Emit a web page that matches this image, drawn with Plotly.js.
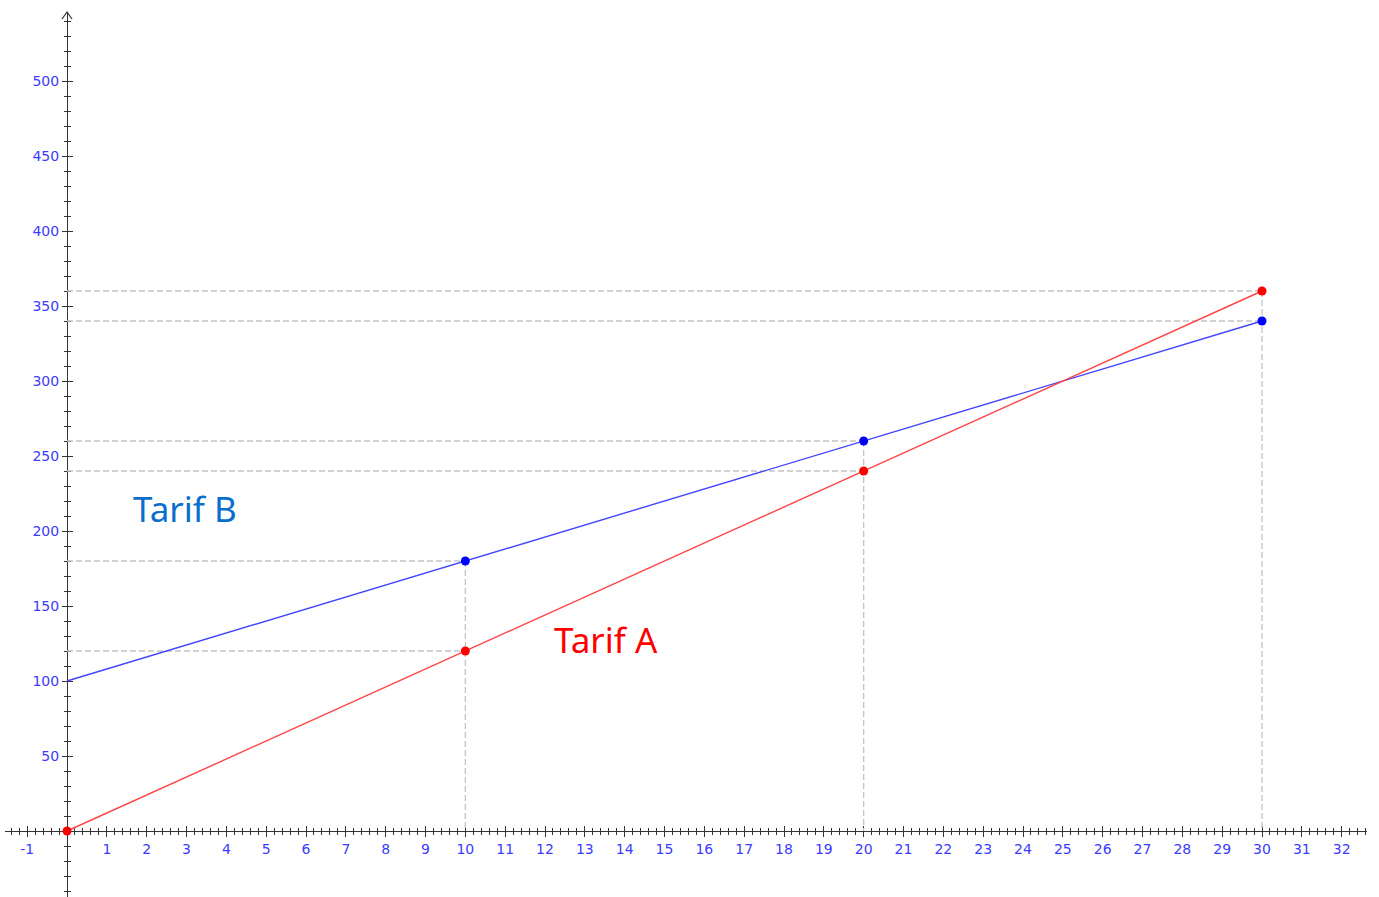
<!DOCTYPE html>
<html>
<head>
<meta charset="utf-8">
<script src="https://cdn.plot.ly/plotly-3.0.1.min.js"></script>
<style>html,body{margin:0;padding:0;background:#fff;}#chart{width:1379px;height:897px;}</style>
</head>
<body>
<div id="chart"></div>
<script>
// Data
const xValues = [0, 10, 20, 30];
const tarifA = [0, 120, 240, 360];
const tarifB = [100, 180, 260, 340];
const xTickVals = [-1,1,2,3,4,5,6,7,8,9,10,11,12,13,14,15,16,17,18,19,20,21,22,23,24,25,26,27,28,29,30,31,32];
const xTickText = ["-1","1","2","3","4","5","6","7","8","9","10","11","12","13","14","15","16","17","18","19","20","21","22","23","24","25","26","27","28","29","30","31","32"];
const yTickVals = [50,100,150,200,250,300,350,400,450,500];
const yTickText = ["50","100","150","200","250","300","350","400","450","500"];
const labelA = "Tarif A";
const labelB = "Tarif B";

// Layout constants
const W = 1379, H = 897;
const xRange = [-1.5565, 32.636];
const yRange = [-44, 546];
const xDomain = [5 / W, 1367 / W];
const yDomain = [0, (H - 12) / H];
const xPos = (0 - yRange[0]) / (yRange[1] - yRange[0]) * (yDomain[1] - yDomain[0]) + yDomain[0];
const yPos = (0 - xRange[0]) / (xRange[1] - xRange[0]) * (xDomain[1] - xDomain[0]) + xDomain[0];

// guide lines: horizontal from each point to y-axis, vertical from the highest point at each x down to x-axis
const hx = [], hy = [], vx = [], vy = [];
for (let i = 0; i < xValues.length; i++) {
  if (xValues[i] === 0) continue;
  hx.push(0, xValues[i], null, 0, xValues[i], null);
  hy.push(tarifA[i], tarifA[i], null, tarifB[i], tarifB[i], null);
  vx.push(xValues[i], xValues[i], null);
  vy.push(Math.max(tarifA[i], tarifB[i]), 0, null);
}
const guideStyle = {color: '#c4c4c4', width: 1.3, dash: '6px,3px'};

const traces = [
  {x: hx, y: hy, mode: 'lines', line: guideStyle, hoverinfo: 'skip', showlegend: false},
  {x: vx, y: vy, mode: 'lines', line: guideStyle, hoverinfo: 'skip', showlegend: false},
  {x: xValues, y: tarifB, mode: 'lines', line: {color: '#4444ff', width: 1.4}, name: labelB, showlegend: false},
  {x: xValues, y: tarifA, mode: 'lines', line: {color: '#ff4444', width: 1.4}, name: labelA, showlegend: false},
  {x: xValues.slice(1), y: tarifB.slice(1), mode: 'markers', marker: {color: '#0000ff', size: 9}, showlegend: false, hoverinfo: 'x+y'},
  {x: xValues, y: tarifA, mode: 'markers', marker: {color: '#ff0000', size: 9}, showlegend: false, hoverinfo: 'x+y'},
  {x: xValues, y: tarifA, xaxis: 'x2', yaxis: 'y2', mode: 'none', showlegend: false, hoverinfo: 'skip'}
];

const tickFont = {family: 'DejaVu Sans, sans-serif', size: 14, color: '#3b3bff'};
const axisCommon = {
  showgrid: false, zeroline: false, layer: 'below traces', fixedrange: true
};

const layout = {
  width: W, height: H,
  margin: {l: 0, r: 0, t: 0, b: 0, pad: 0},
  paper_bgcolor: '#ffffff', plot_bgcolor: '#ffffff',
  showlegend: false,
  xaxis: Object.assign({}, axisCommon, {
    range: xRange, domain: xDomain, anchor: 'free', position: xPos,
    showline: true, linecolor: '#333333', linewidth: 1.3,
    tickmode: 'array', tickvals: xTickVals, ticktext: xTickText, ticks: 'outside', ticklen: 5, tickcolor: '#333333', tickwidth: 1,
    tickfont: tickFont,
    minor: {tickmode: 'linear', tick0: 0, dtick: 0.2, ticks: 'outside', ticklen: 3, tickcolor: '#333333', tickwidth: 1}
  }),
  yaxis: Object.assign({}, axisCommon, {
    range: yRange, domain: yDomain, anchor: 'free', position: yPos,
    showline: true, linecolor: '#333333', linewidth: 1.3,
    tickmode: 'array', tickvals: yTickVals, ticktext: yTickText, ticks: 'outside', ticklen: 5, tickcolor: '#333333', tickwidth: 1,
    tickfont: tickFont,
    minor: {tickmode: 'linear', tick0: 0, dtick: 10, ticks: 'outside', ticklen: 3, tickcolor: '#333333', tickwidth: 1}
  }),
  xaxis2: Object.assign({}, axisCommon, {
    range: xRange, domain: xDomain, anchor: 'free', position: xPos, overlaying: 'x',
    showline: false, showticklabels: false,
    tickmode: 'array', tickvals: xTickVals, ticks: 'inside', ticklen: 5, tickcolor: '#333333', tickwidth: 1,
    minor: {tickmode: 'linear', tick0: 0, dtick: 0.2, ticks: 'inside', ticklen: 3, tickcolor: '#333333', tickwidth: 1}
  }),
  yaxis2: Object.assign({}, axisCommon, {
    range: yRange, domain: yDomain, anchor: 'free', position: yPos, overlaying: 'y',
    showline: false, showticklabels: false,
    tickmode: 'array', tickvals: yTickVals, ticks: 'inside', ticklen: 5, tickcolor: '#333333', tickwidth: 1,
    minor: {tickmode: 'linear', tick0: 0, dtick: 10, ticks: 'inside', ticklen: 3, tickcolor: '#333333', tickwidth: 1}
  }),
  shapes: [
    {type: 'path', xref: 'x', yref: 'paper', xsizemode: 'pixel', ysizemode: 'pixel',
     xanchor: 0, yanchor: yDomain[1], path: 'M -5,-7 L 0,0 L 5,-7',
     line: {color: '#333333', width: 1.2}}
  ],
  annotations: [
    {x: 2.97, y: 215, xref: 'x', yref: 'y', text: labelB, showarrow: false,
     font: {family: 'Noto Sans, sans-serif', size: 35, color: '#0a6ecd'}},
    {x: 13.53, y: 127.5, xref: 'x', yref: 'y', text: labelA, showarrow: false,
     font: {family: 'Noto Sans, sans-serif', size: 35, color: '#ff0000'}}
  ]
};

Plotly.newPlot('chart', traces, layout, {displayModeBar: false, staticPlot: true});
</script>
</body>
</html>
